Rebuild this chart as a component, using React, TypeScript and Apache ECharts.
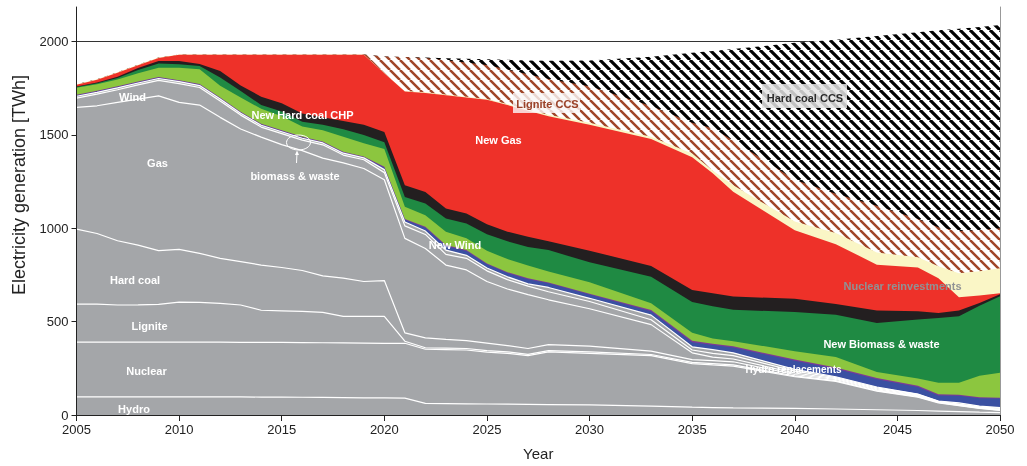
import React, { useEffect, useRef } from 'react';
import * as echarts from 'echarts';

const FONT = "'Liberation Sans', Arial, sans-serif";

const years = [2005, 2006, 2007, 2008, 2009, 2010, 2011, 2012, 2013, 2014, 2015, 2016, 2017, 2018, 2019, 2020, 2021, 2022, 2023, 2024, 2025, 2026, 2027, 2028, 2030, 2033, 2035, 2036, 2037, 2040, 2042, 2044, 2046, 2047, 2048, 2049, 2050];

// existing plants (grey)
const hydro = [97, 97, 97, 97, 97, 97, 97, 97, 97, 96, 96, 95, 94, 93, 92, 92, 90, 62, 61, 60, 59, 58, 57, 56, 54, 48, 42, 40, 38, 35, 32, 28, 24, 21, 18, 15, 13];
const nuclear = [293, 293, 293, 293, 293, 293, 293, 293, 292, 293, 293, 293, 293, 293, 293, 292, 294, 290, 289, 288, 278, 272, 261, 282, 276, 270, 233, 228, 224, 170, 148, 100, 71, 44, 32, 20, 11];
const lignite = [204, 204, 199, 200, 202, 215, 213, 208, 200, 172, 169, 167, 163, 142, 143, 144, 11, 8, 8, 8, 8, 8, 7, 7, 8, 6, 7, 7, 6, 5, 4, 3, 3, 2, 2, 2, 2];
const hardCoal = [401, 378, 344, 320, 288, 282, 263, 241, 232, 242, 232, 219, 195, 205, 187, 192, 45, 53, 47, 42, 40, 34, 31, 32, 31, 18, 15, 16, 17, 7, 6, 4, 4, 2, 2, 2, 2];
const gas = [652, 684, 741, 782, 829, 787, 794, 755, 711, 685, 658, 642, 631, 617, 605, 540, 506, 479, 398, 379, 330, 303, 289, 240, 200, 142, 36, 19, 15, 8, 5, 5, 4, 2, 2, 2, 2];
const wind = [50, 62, 68, 76, 83, 101, 94, 88, 74, 54, 59, 56, 71, 42, 47, 38, 67, 75, 57, 62, 57, 50, 45, 43, 39, 26, 15, 20, 18, 10, 5, 5, 4, 2, 2, 3, 5];
const biomassWaste = [10, 10, 10, 10, 10, 10, 10, 10, 10, 10, 10, 10, 10, 10, 10, 16, 21, 18, 23, 16, 15, 15, 12, 23, 17, 25, 17, 20, 15, 9, 5, 5, 2, 2, 7, 4, 5];

// new plants (coloured)
const hydroReplacements = [4, 4, 4, 4, 4, 4, 4, 4, 4, 4, 4, 4, 4, 4, 4, 10, 12, 18, 22, 23, 20, 20, 25, 22, 20, 21, 25, 25, 29, 46, 43, 42, 38, 30, 38, 42, 48];
const otherNew = [4, 4, 4, 4, 4, 4, 4, 4, 4, 4, 4, 4, 4, 4, 4, 6, 4, 5, 5, 5, 5, 5, 6, 5, 4, 6, 7, 7, 6, 7, 7, 6, 6, 6, 5, 5, 5];
const newWind = [37, 35, 37, 44, 50, 67, 79, 63, 76, 80, 75, 55, 60, 80, 70, 95, 65, 62, 71, 63, 67, 70, 67, 58, 62, 36, 43, 28, 27, 45, 55, 32, 39, 62, 65, 115, 133];
const newBiomass = [4, 5, 8, 18, 23, 18, 18, 44, 35, 20, 25, 25, 30, 40, 45, 36, 53, 62, 71, 80, 89, 95, 100, 115, 107, 142, 165, 172, 169, 209, 227, 263, 316, 346, 356, 375, 410];
const newHardCoalCHP = [3, 5, 7, 10, 13, 18, 11, 35, 30, 45, 45, 45, 40, 45, 55, 54, 62, 62, 54, 53, 53, 52, 55, 48, 62, 58, 65, 70, 71, 71, 57, 67, 44, 27, 31, 15, 10];
const newGas = [9, 14, 21, 15, 16, 33, 49, 87, 164, 224, 259, 314, 334, 354, 374, 315, 502, 531, 606, 621, 667, 678, 675, 669, 675, 680, 710, 643, 561, 368, 321, 245, 235, 187, 70, 40, 6];
const nuclearReinvest = [3, 3, 3, 3, 3, 2, 2, 2, 2, 2, 2, 2, 2, 2, 2, 2, 3, 3, 4, 4, 4, 5, 6, 8, 10, 12, 20, 15, 34, 46, 60, 65, 55, 64, 129, 130, 134];
const ligniteCCS = [0, 0, 0, 0, 0, 0, 0, 0, 0, 0, 0, 0, 0, 0, 0, 88, 182, 184, 184, 184, 183, 185, 189, 192, 195, 165, 165, 225, 240, 224, 210, 250, 205, 208, 226, 220, 214];
const hardCoalCCS = [0, 0, 0, 0, 0, 0, 0, 0, 0, 0, 0, 0, 0, 0, 0, 0, 0, 2, 11, 20, 30, 52, 74, 97, 138, 263, 375, 415, 490, 733, 825, 910, 1000, 1055, 1083, 1088, 1088];

const yTicks = [0, 500, 1000, 1500, 2000];

function makeHatch(color: string, size: number, width: number) {
  const c = document.createElement('canvas');
  c.width = size;
  c.height = size;
  const ctx = c.getContext('2d')!;
  ctx.fillStyle = '#ffffff';
  ctx.fillRect(0, 0, size, size);
  ctx.strokeStyle = color;
  ctx.lineWidth = width;
  ctx.beginPath();
  for (const k of [-1, 0, 1]) {
    ctx.moveTo(k * size, 0);
    ctx.lineTo(k * size + size, size);
  }
  ctx.stroke();
  return { image: c.toDataURL(), imageWidth: size, imageHeight: size, repeat: 'repeat' };
}

export default function App() {
  const ref = useRef<HTMLDivElement>(null);
  useEffect(() => {
    if (!ref.current) return;
    const chart = echarts.init(ref.current, undefined, { renderer: 'svg' });
    const GRAY = '#a4a6a9';
    const brownHatch = makeHatch('#a04528', 10, 2.5);
    const blackHatch = makeHatch('#000000', 10, 3.2);

    const layers: any[] = [
      { name: 'Hydro', data: hydro, color: GRAY, white: true },
      { name: 'Nuclear', data: nuclear, color: GRAY, white: true },
      { name: 'Lignite', data: lignite, color: GRAY, white: true },
      { name: 'Hard coal', data: hardCoal, color: GRAY, white: true },
      { name: 'Gas', data: gas, color: GRAY, white: true },
      { name: 'Wind', data: wind, color: GRAY, white: true },
      { name: 'biomass & waste', data: biomassWaste, color: GRAY, white: true },
      { name: 'Hydro replacements', data: hydroReplacements, color: '#3a50a2' },
      { name: 'Other new', data: otherNew, color: '#7e3a96' },
      { name: 'New Wind', data: newWind, color: '#8cc63f' },
      { name: 'New Biomass & waste', data: newBiomass, color: '#1f8a43' },
      { name: 'New Hard coal CHP', data: newHardCoalCHP, color: '#231f20' },
      { name: 'New Gas', data: newGas, color: '#ee3129' },
      { name: 'Nuclear reinvestments', data: nuclearReinvest, color: '#faf6c6' },
      { name: 'Lignite CCS', data: ligniteCCS, color: brownHatch },
      { name: 'Hard coal CCS', data: hardCoalCCS, color: blackHatch },
    ];

    // cumulative tops (stack computed here; drawn top layer first, lower layers over it)
    let run = years.map(() => 0);
    const cumulative = layers.map((l) => {
      run = run.map((v, i) => v + l.data[i]);
      return run.slice();
    });

    const series = layers
      .map((l, k) => ({
        type: 'line',
        name: l.name,
        yAxisIndex: 0,
        symbol: 'none',
        showSymbol: false,
        silent: true,
        emphasis: { disabled: true },
        data: years.map((y, i) => [y, cumulative[k][i]]),
        lineStyle: l.white ? { color: '#ffffff', width: 1.2 } : { width: 0, opacity: 0 },
        areaStyle: { color: l.color, opacity: 1, origin: 'start' },
      }))
      .reverse();

    const lbl = (text: string, x: number, y: number, fill = '#ffffff', size = 11) => ({
      type: 'text',
      x,
      y,
      z: 100,
      silent: true,
      style: {
        text,
        fill,
        fontFamily: FONT,
        fontWeight: 'bold',
        fontSize: size,
        align: 'center',
        verticalAlign: 'middle',
      },
    });

    const option: any = {
      animation: false,
      grid: { left: 76.5, right: 27, top: 7, bottom: 48.5, containLabel: false },
      xAxis: {
        type: 'value',
        min: 2005,
        max: 2050,
        interval: 5,
        name: 'Year',
        nameLocation: 'middle',
        nameGap: 31,
        nameTextStyle: { fontFamily: FONT, fontSize: 15, color: '#222' },
        axisLine: { show: true, onZero: false, lineStyle: { color: '#222', width: 1 } },
        axisTick: { show: true, length: 6, lineStyle: { color: '#222' } },
        axisLabel: { formatter: (v: number) => String(v), fontFamily: FONT, fontSize: 13, color: '#222', margin: 8 },
        splitLine: { show: false },
        z: 10,
      },
      yAxis: [
        {
          // grid lines only, drawn beneath the areas
          type: 'value',
          min: 0,
          max: 2185,
          interval: 500,
          axisLine: { show: false },
          axisTick: { show: false },
          axisLabel: { show: false },
          splitLine: { show: true, showMaxLine: false, showMinLine: false, lineStyle: { color: '#333', width: 1 } },
        },
        {
          // visible left axis, above the areas
          type: 'value',
          position: 'left',
          min: 0,
          max: 2185,
          interval: 500,
          axisLine: { show: true, lineStyle: { color: '#222', width: 1 } },
          axisTick: { show: true, length: 5, customValues: yTicks, lineStyle: { color: '#222' } },
          axisLabel: {
            formatter: (v: number) => String(v),
            customValues: yTicks,
            fontFamily: FONT,
            fontSize: 13,
            color: '#222',
            margin: 8,
          },
          splitLine: { show: false },
          z: 10,
        },
        {
          type: 'value',
          position: 'right',
          min: 0,
          max: 2185,
          axisLine: { show: true, lineStyle: { color: '#999', width: 1 } },
          axisTick: { show: false },
          axisLabel: { show: false },
          splitLine: { show: false },
          z: 10,
        },
      ],
      series,
      graphic: [
        {
          type: 'text', x: 19, y: 185, rotation: Math.PI / 2, z: 100, silent: true,
          style: {
            text: 'Electricity generation [TWh]', fill: '#222', fontFamily: FONT, fontSize: 18,
            align: 'center', verticalAlign: 'middle',
          },
        },
        lbl('Wind', 132.5, 96.5),
        lbl('Gas', 157.5, 163),
        lbl('Hard coal', 135, 279.5),
        lbl('Lignite', 149.5, 325.5),
        lbl('Nuclear', 146.5, 370.5),
        lbl('Hydro', 134, 408.5),
        lbl('New Hard coal CHP', 302.5, 115),
        lbl('biomass & waste', 295, 175.5),
        {
          type: 'ellipse', z: 100, silent: true,
          shape: { cx: 298.5, cy: 142.5, rx: 12, ry: 7.5 },
          style: { fill: 'none', stroke: '#ffffff', lineWidth: 1 },
        },
        {
          type: 'line', z: 100, silent: true,
          shape: { x1: 297, y1: 153, x2: 296.5, y2: 163 },
          style: { stroke: '#ffffff', lineWidth: 1 },
        },
        {
          type: 'polygon', z: 100, silent: true,
          shape: { points: [[297, 150.5], [295, 155], [299, 155]] },
          style: { fill: '#ffffff' },
        },
        lbl('New Gas', 498.5, 140),
        {
          type: 'rect', z: 99, silent: true,
          shape: { x: 513, y: 93, width: 67, height: 20 },
          style: { fill: 'rgba(250,246,246,0.82)' },
        },
        lbl('Lignite CCS', 547.5, 103.5, '#9a4128'),
        {
          type: 'rect', z: 99, silent: true,
          shape: { x: 762, y: 84, width: 85, height: 24 },
          style: { fill: 'rgba(228,228,228,0.85)' },
        },
        lbl('Hard coal CCS', 805, 97.5, '#2a2a2a'),
        lbl('New Wind', 455, 245),
        lbl('Nuclear reinvestments', 902.5, 286, '#909295'),
        lbl('New Biomass & waste', 881.5, 343.5),
        lbl('Hydro replacements', 793.5, 369.5, '#ffffff', 10),
      ],
    };
    chart.setOption(option);
    return () => chart.dispose();
  }, []);
  return <div ref={ref} style={{ position: 'fixed', left: 0, top: 0, width: 1027, height: 466 }} />;
}
